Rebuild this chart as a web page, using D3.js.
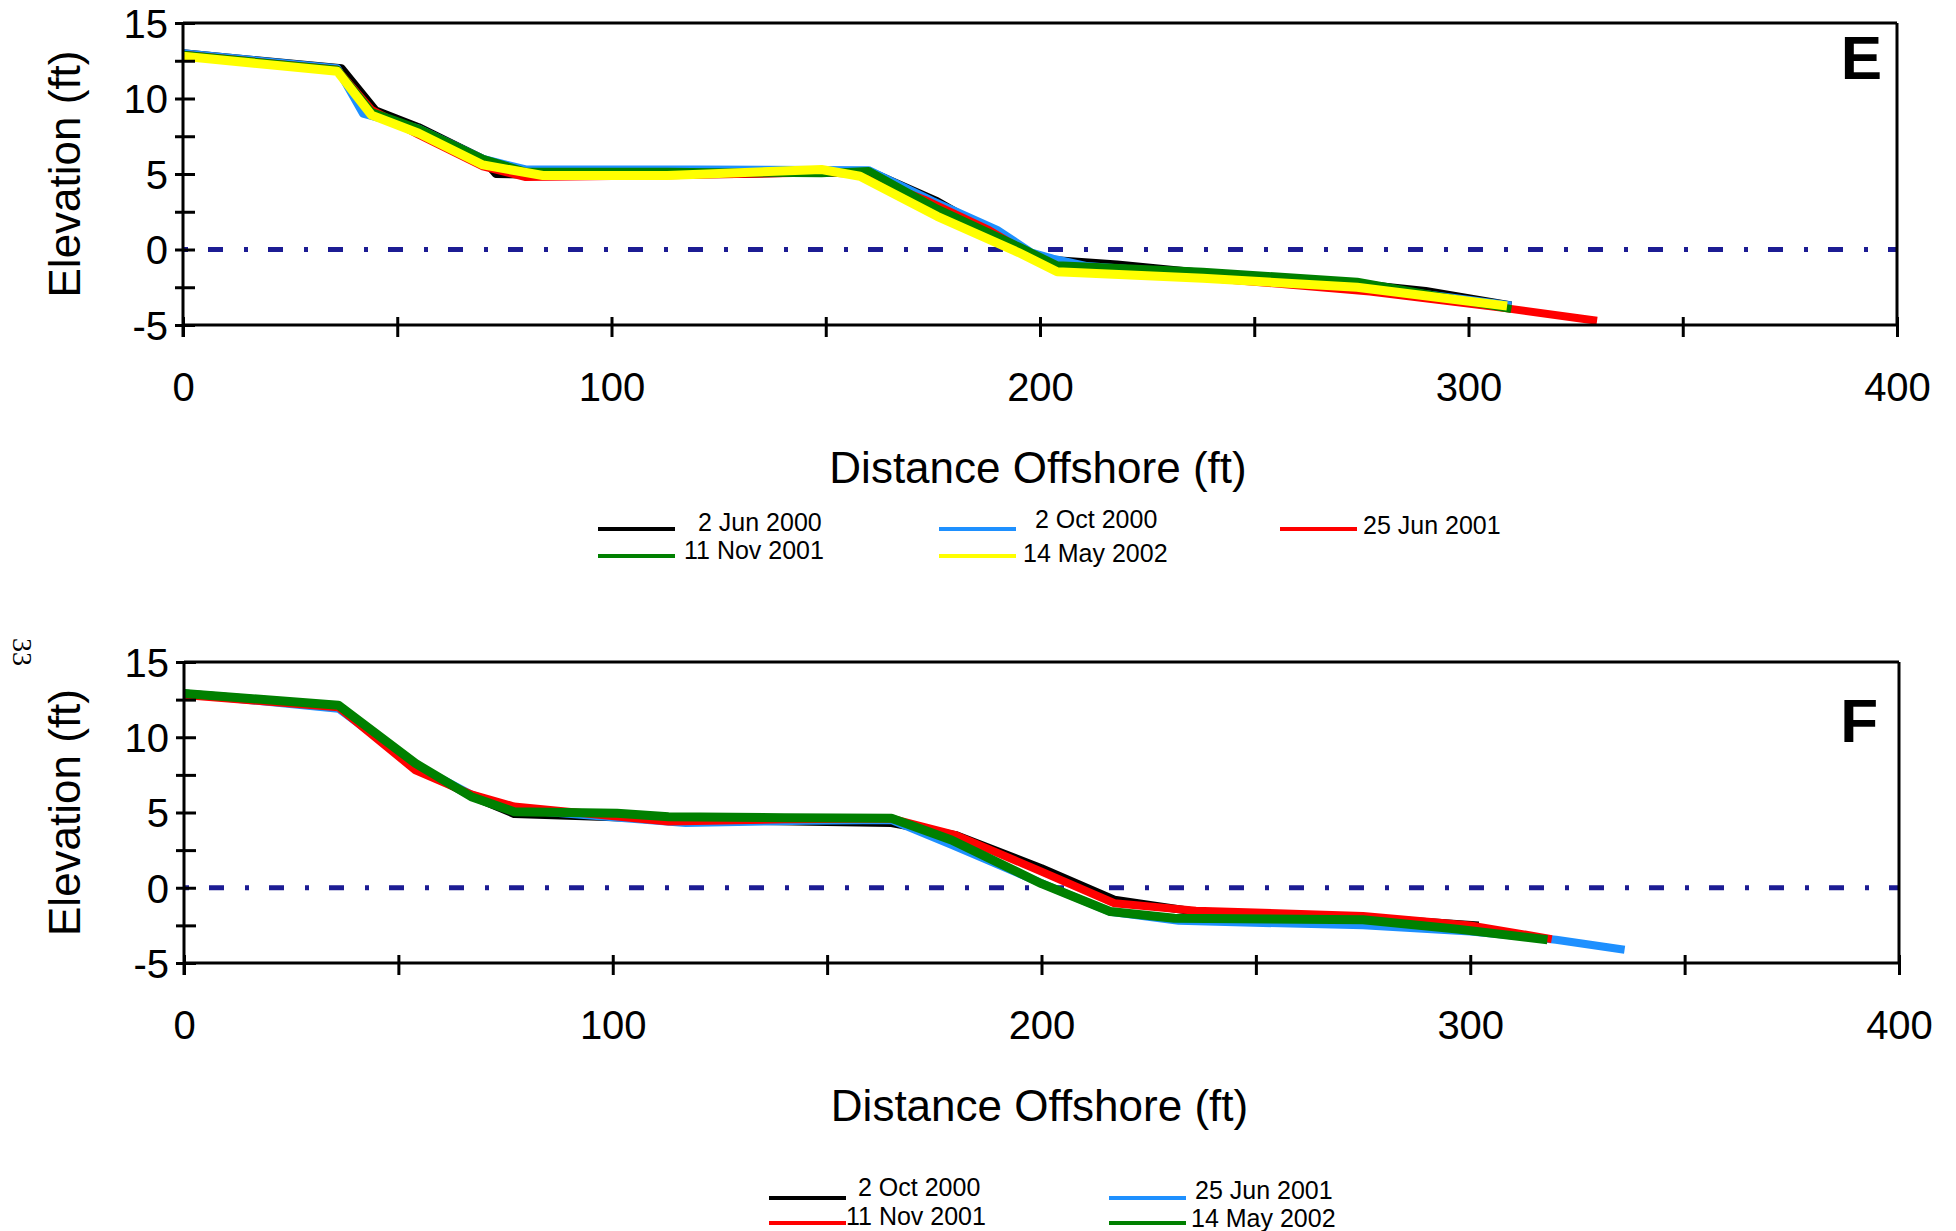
<!DOCTYPE html>
<html><head><meta charset="utf-8">
<script src="https://cdn.jsdelivr.net/npm/d3@7/dist/d3.min.js"></script>
<style>body{margin:0;background:#fff}svg{display:block;background:#fff}</style>
</head><body>
<svg id="chart" width="1956" height="1231"></svg>
<script>
// ---------- data ----------
const xTickValues = [0, 50, 100, 150, 200, 250, 300, 350, 400];
const xTickLabels = ["0", "", "100", "", "200", "", "300", "", "400"];
const yTickValues = [-5, -2.5, 0, 2.5, 5, 7.5, 10, 12.5, 15];
const yTickLabels = ["-5", "", "0", "", "5", "", "10", "", "15"];
const xTitle = "Distance Offshore (ft)";
const yTitle = "Elevation (ft)";
const panelLabels = ["E", "F"];
const pageNumber = "33";

// Panel E profiles [distance offshore, elevation]
const seriesNamesE = ["2 Jun 2000", "2 Oct 2000", "25 Jun 2001", "11 Nov 2001", "14 May 2002"];
const jun2000E = [[0,13.0],[37,12.0],[45,9.2],[55,8.1],[70,6.0],[73,5.0],[85,4.95],[130,5.0],[160,5.2],[176,3.2],[197,-0.2],[203,-0.7],[218,-1.0],[240,-1.6],[275,-2.3],[290,-2.75],[310,-3.7]];
const oct2000E = [[0,13.0],[36,12.0],[42,9.0],[55,8.0],[70,6.0],[80,5.3],[120,5.3],[160,5.25],[175,3.2],[190,1.3],[198,-0.2],[203,-0.6],[211,-1.1],[240,-1.7],[275,-2.4],[310,-3.7]];
const jun2001E = [[0,12.9],[36,11.9],[44,9.25],[55,7.6],[70,5.5],[80,4.8],[110,4.9],[150,5.1],[158,5.0],[173,3.3],[188,1.3],[198,-0.4],[204,-1.3],[240,-1.9],[277,-2.78],[309,-3.9],[330,-4.72]];
const nov2001E = [[0,12.9],[36,11.9],[44,9.1],[55,8.0],[70,6.0],[80,5.15],[113,5.15],[149,5.05],[160,5.2],[176,2.7],[195,0.2],[204,-1.05],[238,-1.47],[274,-2.13],[310,-3.95]];
const may2002E = [[0,12.8],[36,11.8],[44,8.9],[55,7.7],[70,5.6],[84,4.9],[113,4.9],[149,5.3],[158,4.85],[176,2.2],[195,-0.2],[204,-1.47],[238,-1.91],[274,-2.5],[309,-3.74]];

// Panel F profiles
const seriesNamesF = ["2 Oct 2000", "25 Jun 2001", "11 Nov 2001", "14 May 2002"];
const oct2000F = [[0,12.9],[36,12.1],[53,8.2],[67,6.1],[77,4.9],[120,4.5],[165,4.3],[180,3.5],[200,1.3],[217,-0.8],[236,-1.6],[275,-2.0],[302,-2.5]];
const jun2001F = [[0,12.9],[36,11.9],[53,8.3],[67,6.2],[77,5.2],[117,4.3],[145,4.45],[165,4.5],[179,2.85],[200,0.3],[216,-1.6],[232,-2.2],[275,-2.5],[300,-2.9],[320,-3.45],[336,-4.12]];
const nov2001F = [[0,12.8],[36,12.0],[54,7.8],[67,6.2],[77,5.4],[113,4.4],[140,4.55],[165,4.6],[180,3.5],[200,1.07],[217,-1.03],[236,-1.53],[275,-1.87],[300,-2.5],[319,-3.41]];
const may2002F = [[0,12.9],[36,12.13],[54,8.26],[67,6.05],[77,5.05],[101,4.95],[113,4.72],[140,4.65],[165,4.62],[179,3.17],[200,0.27],[216,-1.58],[231,-2.02],[275,-2.13],[297,-2.75],[318,-3.45]];

// ---------- styles / layout ----------
const FONT = "'Liberation Sans', Arial, Helvetica, sans-serif";
const colorsE = ["#000000", "#1e90ff", "#ff0000", "#008000", "#ffff00"];
const colorsF = ["#000000", "#1e90ff", "#ff0000", "#008000"];

const panels = [
  {
    label: panelLabels[0], left: 183, right: 1897, top: 23, bottom: 325,
    labelX: 1882, labelY: 79,
    series: [jun2000E, oct2000E, jun2001E, nov2001E, may2002E],
    names: seriesNamesE, colors: colorsE,
    legend: [
      {i:0, lx:598, ly:529, tx:698, ty:531},
      {i:1, lx:939, ly:529, tx:1035, ty:528},
      {i:2, lx:1280, ly:529, tx:1363, ty:534},
      {i:3, lx:598, ly:556, tx:684, ty:559},
      {i:4, lx:939, ly:556, tx:1023, ty:562}
    ]
  },
  {
    label: panelLabels[1], left: 184, right: 1899, top: 662, bottom: 963,
    labelX: 1878, labelY: 742,
    series: [oct2000F, jun2001F, nov2001F, may2002F],
    names: seriesNamesF, colors: colorsF,
    legend: [
      {i:0, lx:769, ly:1198, tx:858, ty:1196},
      {i:1, lx:1109, ly:1198, tx:1195, ty:1199},
      {i:2, lx:769, ly:1223, tx:846, ty:1225},
      {i:3, lx:1109, ly:1223, tx:1191, ty:1227}
    ]
  }
];

const svg = d3.select("#chart");

panels.forEach(p => {
  const x = d3.scaleLinear().domain([0, 400]).range([p.left, p.right]);
  const y = d3.scaleLinear().domain([-5, 15]).range([p.bottom, p.top]);
  const g = svg.append("g");

  // zero reference line (dash-dot)
  g.append("line")
    .attr("x1", x(0)).attr("x2", x(400))
    .attr("y1", y(0)).attr("y2", y(0))
    .attr("stroke", "#1c1c94").attr("stroke-width", 5)
    .attr("stroke-dasharray", "15,21,4,20").attr("stroke-dashoffset", 35);

  // data lines
  const line = d3.line().x(d => x(d[0])).y(d => y(d[1]));
  p.series.forEach((s, i) => {
    g.append("path").datum(s)
      .attr("d", line)
      .attr("fill", "none")
      .attr("stroke", p.colors[i])
      .attr("stroke-width", i === p.series.length - 1 ? 9 : 8)
      .attr("stroke-linejoin", "round");
  });

  // frame (top and right)
  g.append("line").attr("x1", x(0)).attr("x2", x(400)).attr("y1", y(15)).attr("y2", y(15))
    .attr("stroke", "#000").attr("stroke-width", 3);
  g.append("line").attr("x1", x(400)).attr("x2", x(400)).attr("y1", y(15)).attr("y2", y(-5))
    .attr("stroke", "#000").attr("stroke-width", 3);

  // x axis
  const xAxis = d3.axisBottom(x).tickValues(xTickValues)
    .tickFormat((d, i) => xTickLabels[i]).tickSize(12);
  const gx = g.append("g").attr("transform", `translate(0,${y(-5)})`).call(xAxis);
  gx.select(".domain").attr("stroke", "#000").attr("stroke-width", 3).attr("d", `M${x(0)},0H${x(400)}`);
  gx.selectAll(".tick line").attr("y1", -8).attr("y2", 12).attr("stroke", "#000").attr("stroke-width", 3);
  gx.selectAll(".tick text").attr("y", 76).attr("dy", 0)
    .attr("font-family", FONT).attr("font-size", 40).attr("fill", "#000");

  // y axis
  const yAxis = d3.axisLeft(y).tickValues(yTickValues)
    .tickFormat((d, i) => yTickLabels[i]).tickSize(8);
  const gy = g.append("g").attr("transform", `translate(${x(0)},0)`).call(yAxis);
  gy.select(".domain").attr("stroke", "#000").attr("stroke-width", 3).attr("d", `M0,${y(15)}V${y(-5) + 12}`);
  gy.selectAll(".tick line").attr("x1", -8).attr("x2", 12).attr("stroke", "#000").attr("stroke-width", 3);
  gy.selectAll(".tick text").attr("x", -15).attr("dy", "0.36em")
    .attr("font-family", FONT).attr("font-size", 40).attr("fill", "#000");

  // axis titles
  g.append("text").text(xTitle)
    .attr("x", x(200) - 2).attr("y", y(-5) + 158)
    .attr("text-anchor", "middle").attr("font-family", FONT).attr("font-size", 44).attr("fill", "#000");
  g.append("text").text(yTitle)
    .attr("transform", `translate(80,${(y(15) + y(-5)) / 2}) rotate(-90)`)
    .attr("text-anchor", "middle").attr("font-family", FONT).attr("font-size", 44).attr("fill", "#000");

  // panel label
  g.append("text").text(p.label)
    .attr("x", p.labelX).attr("y", p.labelY)
    .attr("text-anchor", "end").attr("font-family", FONT).attr("font-weight", "bold")
    .attr("font-size", 62).attr("fill", "#000");

  // legend
  const lg = g.append("g");
  p.legend.forEach(e => {
    lg.append("line").attr("x1", e.lx).attr("x2", e.lx + 77).attr("y1", e.ly).attr("y2", e.ly)
      .attr("stroke", p.colors[e.i]).attr("stroke-width", 4);
    lg.append("text").text(p.names[e.i])
      .attr("x", e.tx).attr("y", e.ty)
      .attr("font-family", FONT).attr("font-size", 25).attr("fill", "#000");
  });
});

// page number
svg.append("text").text(pageNumber)
  .attr("transform", "translate(13,652) rotate(90)")
  .attr("text-anchor", "middle")
  .attr("font-family", "'Liberation Serif', 'Times New Roman', serif")
  .attr("font-size", 28).attr("fill", "#000");
</script>
</body></html>
